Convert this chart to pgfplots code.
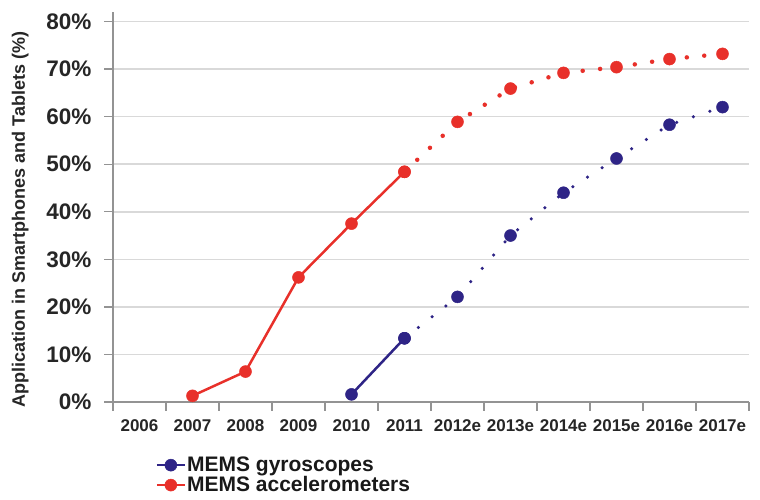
\documentclass[border=0pt]{standalone}
\usepackage{pgfplots}
\pgfplotsset{compat=1.18}
\usepackage{fontspec}
\setmainfont{Liberation Sans}
\definecolor{accred}{RGB}{232,48,42}
\definecolor{gyroblue}{RGB}{46,36,134}
\begin{document}
\begin{tikzpicture}[x=1pt,y=1pt]
\path[use as bounding box] (0,0) rectangle (760,500);
\begin{axis}[
 at={(113pt,98pt)}, anchor=south west,
 scale only axis, width=636pt, height=390pt,
 xmin=-0.5, xmax=11.5, ymin=0, ymax=82,
 axis x line*=bottom, axis y line*=left,
 axis line style={draw=gray!85, line width=1.3pt, -},
 xtick={-0.5,0.5,...,11.5},
 xticklabels={2006,2007,2008,2009,2010,2011,2012e,2013e,2014e,2015e,2016e,2017e,{}},
 ytick={0,10,...,80},
 yticklabel={\pgfmathprintnumber{\tick}\%},
 /pgf/number format/assume math mode=true,
 tick align=outside,
 major tick length=9pt,
 tick style={draw=gray!85, line width=1.3pt},
 ymajorgrids,
 grid style={draw=gray!30, line width=1.5pt},
 x tick label style={font=\fontsize{17}{19}\selectfont\bfseries, color=black!85, xshift=26.5pt, yshift=-5pt},
 y tick label style={font=\fontsize{22.5}{24}\selectfont\bfseries, color=black!85, xshift=-9pt},
 ylabel={Application in Smartphones and Tablets (\%)},
 ylabel style={at={(axis description cs:-0.146,0.468)}, anchor=center, font=\fontsize{18}{20}\selectfont\bfseries, color=black!85},
 legend style={at={(axis description cs:0.062,-0.133)}, anchor=north west, draw=none, fill=none, font=\fontsize{21}{23}\selectfont\bfseries, row sep=1.5pt, nodes={inner sep=1pt, text=black!90}},
 legend cell align=left,
 legend image code/.code={\draw[#1, mark repeat=2, mark phase=2] plot coordinates {(0pt,0pt)(14pt,0pt)(28pt,0pt)};},
 clip=false,
]
\addplot[gyroblue, line width=2.5pt, mark=*, mark size=6pt, mark options={solid, fill=gyroblue, draw=gyroblue, line width=0.5pt}] coordinates {(4,1.6)(5,13.4)};
\addlegendentry{MEMS gyroscopes}
\addplot[accred, line width=2.5pt, mark=*, mark size=6pt, mark options={solid, fill=accred, draw=accred, line width=0.5pt}] coordinates {(1,1.3)(2,6.4)(3,26.2)(4,37.5)(5,48.4)};
\addlegendentry{MEMS accelerometers}
\addplot[forget plot, gyroblue, line width=3.5pt, line cap=round, dash pattern=on 0pt off 17.5pt, mark=*, mark size=6pt, mark options={solid, fill=gyroblue, draw=gyroblue, line width=0.5pt}] coordinates {(5,13.4)(6,22.1)(7,35)(8,44)(9,51.2)(10,58.3)(11,62)};
\addplot[forget plot, accred, line width=4.5pt, line cap=round, dash pattern=on 0pt off 17.5pt, mark=*, mark size=6pt, mark options={solid, fill=accred, draw=accred, line width=0.5pt}] coordinates {(5,48.4)(6,58.9)(7,65.9)(8,69.2)(9,70.4)(10,72.1)(11,73.2)};
\end{axis}
\end{tikzpicture}
\end{document}
